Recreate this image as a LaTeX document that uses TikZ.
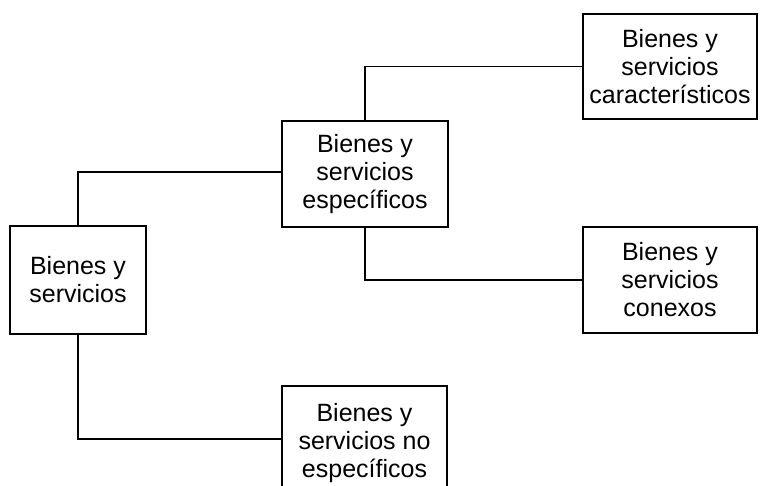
\documentclass[tikz,border=0pt]{standalone}
\usepackage{fontspec}
\setmainfont{Liberation Sans}
\begin{document}
\begin{tikzpicture}[x=1pt,y=-1pt,
  box/.style={draw=black,line width=1.6pt,rectangle,align=center,inner sep=0pt,
    font=\fontsize{25}{28}\selectfont,text=black},
  conn/.style={draw=black,line width=1.6pt}]
\useasboundingbox (0,0) rectangle (760,486);
\clip (0,0) rectangle (760,486);
\node[box,minimum width=136pt,minimum height=108pt] (bys) at (78,280) {Bienes y\\servicios};
\node[box,minimum width=166pt,minimum height=106pt] (esp) at (365,174) {Bienes y\\servicios\\específicos};
\node[box,minimum width=174pt,minimum height=105pt] (car) at (670,66.5) {Bienes y\\servicios\\característicos};
\node[box,minimum width=174pt,minimum height=106pt] (con) at (670,280) {Bienes y\\servicios\\conexos};
\node[box,minimum width=165pt,minimum height=114pt] (noe) at (364.5,443) {Bienes y\\servicios no\\específicos};
\draw[conn] (bys.north) |- ([yshift=2pt]esp.west);
\draw[conn] (esp.north) |- (car.west);
\draw[conn] (esp.south) |- (con.west);
\draw[conn] (bys.south) |- ([yshift=4pt]noe.west);
\end{tikzpicture}
\end{document}
